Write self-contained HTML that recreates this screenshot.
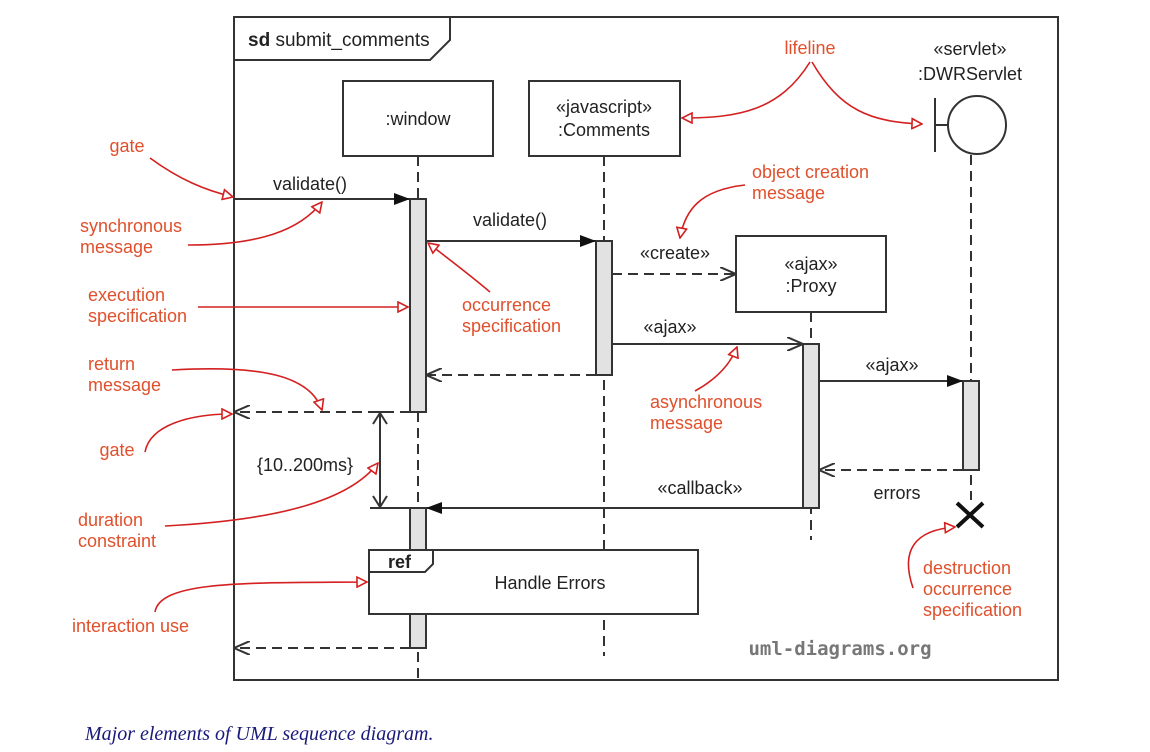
<!DOCTYPE html>
<html><head><meta charset="utf-8"><style>
body{margin:0;background:#fff;width:1150px;height:752px;overflow:hidden}
svg{display:block}
text{font-family:"Liberation Sans",Arial,sans-serif;font-size:18px;fill:#222}
.r{fill:#e0502c}
.k{stroke:#333;stroke-width:2;fill:none}
.w{stroke:#333;stroke-width:2;fill:#fff}
.d{stroke:#333;stroke-width:2;fill:none;stroke-dasharray:10,6}
.a{fill:#e2e2e2;stroke:#333;stroke-width:2}
.c{stroke:#d42020;stroke-width:1.6;fill:none;marker-end:url(#ra)}
</style></head><body>
<svg width="1150" height="752" viewBox="0 0 1150 752">
<defs>
<marker id="ra" viewBox="0 0 12 12" refX="11" refY="6" markerWidth="12" markerHeight="12" markerUnits="userSpaceOnUse" orient="auto"><path d="M1,1 L11,6 L1,11 Z" fill="#fff" stroke="#d42020" stroke-width="1.6"/></marker>
<marker id="fa" viewBox="0 0 16 12" refX="16" refY="6" markerWidth="16" markerHeight="12" markerUnits="userSpaceOnUse" orient="auto"><path d="M0,0 L16,6 L0,12 Z" fill="#111"/></marker>
<marker id="oa" viewBox="0 0 16 14" refX="16" refY="7" markerWidth="16" markerHeight="14" markerUnits="userSpaceOnUse" orient="auto"><path d="M0,0 L16,7 L0,14" fill="none" stroke="#333" stroke-width="2"/></marker>
</defs>
<rect x="234" y="17" width="824" height="663" class="k"/>
<path d="M234,60 L430,60 L450,40 L450,17" class="k"/>
<text x="248" y="46" style="font-size:19px"><tspan font-weight="bold">sd</tspan> submit_comments</text>

<!-- lifelines -->
<rect x="343" y="81" width="150" height="75" class="w"/>
<text x="418" y="125" text-anchor="middle">:window</text>
<line x1="418" y1="156" x2="418" y2="680" class="d"/>
<rect x="529" y="81" width="151" height="75" class="w"/>
<text x="604" y="113" text-anchor="middle">«javascript»</text>
<text x="604" y="136" text-anchor="middle">:Comments</text>
<line x1="604" y1="156" x2="604" y2="656" class="d"/>
<line x1="811" y1="312" x2="811" y2="540" class="d"/>
<text x="970" y="55" text-anchor="middle">«servlet»</text>
<text x="970" y="80" text-anchor="middle">:DWRServlet</text>
<line x1="935" y1="98" x2="935" y2="152" class="k"/>
<line x1="935" y1="125" x2="948" y2="125" class="k"/>
<circle cx="977" cy="125" r="29" class="w"/>
<line x1="971" y1="155" x2="971" y2="500" class="d"/>
<rect x="736" y="236" width="150" height="76" class="w"/>
<text x="811" y="270" text-anchor="middle">«ajax»</text>
<text x="811" y="292" text-anchor="middle">:Proxy</text>

<!-- activations -->
<rect x="410" y="199" width="16" height="213" class="a"/>
<rect x="410" y="508" width="16" height="140" class="a"/>
<rect x="596" y="241" width="16" height="134" class="a"/>
<rect x="803" y="344" width="16" height="164" class="a"/>
<rect x="963" y="381" width="16" height="89" class="a"/>
<path d="M957,503 L983,527 M983,503 L957,527" stroke="#111" stroke-width="4"/>

<!-- messages -->
<line x1="234" y1="199" x2="410" y2="199" class="k" marker-end="url(#fa)"/>
<text x="310" y="190" text-anchor="middle">validate()</text>
<line x1="426" y1="241" x2="596" y2="241" class="k" marker-end="url(#fa)"/>
<text x="510" y="226" text-anchor="middle">validate()</text>
<line x1="612" y1="274" x2="736" y2="274" class="d" marker-end="url(#oa)"/>
<text x="675" y="259" text-anchor="middle">«create»</text>
<line x1="612" y1="344" x2="803" y2="344" class="k" marker-end="url(#oa)"/>
<text x="670" y="333" text-anchor="middle">«ajax»</text>
<line x1="596" y1="375" x2="426" y2="375" class="d" marker-end="url(#oa)"/>
<line x1="410" y1="412" x2="234" y2="412" class="d" marker-end="url(#oa)"/>
<line x1="819" y1="381" x2="963" y2="381" class="k" marker-end="url(#fa)"/>
<text x="892" y="371" text-anchor="middle">«ajax»</text>
<line x1="963" y1="470" x2="819" y2="470" class="d" marker-end="url(#oa)"/>
<text x="897" y="499" text-anchor="middle">errors</text>
<line x1="803" y1="508" x2="426" y2="508" class="k" marker-end="url(#fa)"/>
<text x="700" y="494" text-anchor="middle">«callback»</text>
<line x1="410" y1="648" x2="234" y2="648" class="d" marker-end="url(#oa)"/>
<line x1="370" y1="508" x2="410" y2="508" class="k"/>
<line x1="370" y1="412" x2="392" y2="412" class="k"/>
<line x1="380" y1="414" x2="380" y2="506" class="k"/>
<path d="M373,424 L380,413 L387,424 M373,496 L380,507 L387,496" class="k"/>
<text x="305" y="471" text-anchor="middle">{10..200ms}</text>

<!-- ref -->
<rect x="369" y="550" width="329" height="64" class="w"/>
<path d="M369,572 L425,572 L433,564 L433,550" class="k"/>
<text x="388" y="568" font-weight="bold">ref</text>
<text x="550" y="589" text-anchor="middle">Handle Errors</text>

<text x="840" y="655" text-anchor="middle" style="font-family:'DejaVu Sans Mono','Liberation Mono',monospace;font-size:19px;font-weight:bold;fill:#777">uml-diagrams.org</text>

<!-- annotations -->
<g>
<text class="r" x="810" y="54" text-anchor="middle">lifeline</text>
<path class="c" d="M810,62 C780,110 740,118 682,118"/>
<path class="c" d="M812,62 C840,110 870,122 922,124"/>
<text class="r" x="127" y="152" text-anchor="middle">gate</text>
<path class="c" d="M150,158 C180,180 205,190 233,197"/>
<text class="r" x="80" y="232">synchronous</text>
<text class="r" x="80" y="253">message</text>
<path class="c" d="M188,245 C260,245 300,230 322,202"/>
<text class="r" x="88" y="301">execution</text>
<text class="r" x="88" y="322">specification</text>
<path class="c" d="M198,307 L408,307"/>
<text class="r" x="88" y="370">return</text>
<text class="r" x="88" y="391">message</text>
<path class="c" d="M172,370 C260,365 310,375 322,410"/>
<text class="r" x="117" y="456" text-anchor="middle">gate</text>
<path class="c" d="M145,452 C150,425 190,414 232,414"/>
<text class="r" x="78" y="526">duration</text>
<text class="r" x="78" y="547">constraint</text>
<path class="c" d="M165,526 C280,520 350,500 378,463"/>
<text class="r" x="72" y="632">interaction use</text>
<path class="c" d="M155,612 C160,580 250,583 367,582"/>
<text class="r" x="462" y="311">occurrence</text>
<text class="r" x="462" y="332">specification</text>
<path class="c" d="M490,292 C470,275 450,260 428,243"/>
<text class="r" x="752" y="178">object creation</text>
<text class="r" x="752" y="199">message</text>
<path class="c" d="M745,185 C700,190 685,210 680,238"/>
<text class="r" x="650" y="408">asynchronous</text>
<text class="r" x="650" y="429">message</text>
<path class="c" d="M695,391 C715,380 730,365 737,347"/>
<text class="r" x="923" y="574">destruction</text>
<text class="r" x="923" y="595">occurrence</text>
<text class="r" x="923" y="616">specification</text>
<path class="c" d="M913,588 C900,550 915,530 955,527"/>
</g>

<text x="85" y="740" style="font-family:'Liberation Serif',serif;font-style:italic;font-size:20px;fill:#1a1a7a">Major elements of UML sequence diagram.</text>
</svg>
</body></html>
